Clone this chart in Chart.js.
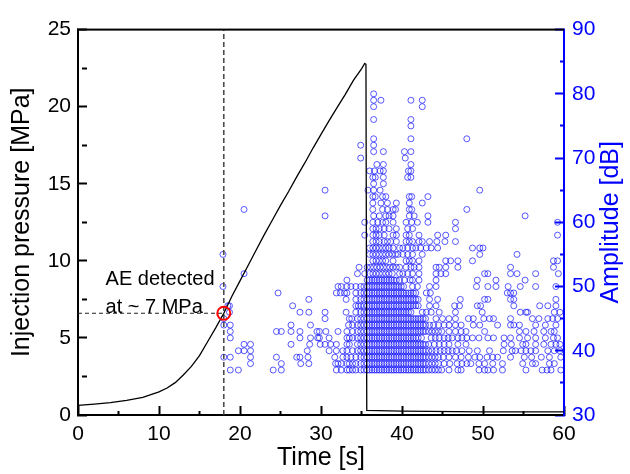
<!DOCTYPE html>
<html>
<head>
<meta charset="utf-8">
<script src="https://cdn.jsdelivr.net/npm/chart.js@4.4.0/dist/chart.umd.min.js"></script>
<style>
  body { margin: 0; background: #fff; }
  #wrap { width: 630px; height: 474px; }
</style>
</head>
<body>
<div id="wrap"><canvas id="chart"></canvas></div>
<script>
// Injection pressure curve (time [s], pressure [MPa])
const pressTime = [0, 2, 4, 6, 8, 10, 11, 12, 13, 14, 15, 16, 17, 18, 19, 20, 21, 22, 23, 24, 25, 26, 27, 28, 29, 30, 31, 32, 33, 34, 35, 35.4, 35.55, 35.65, 40, 50, 60];
const pressValue = [0.62, 0.7, 0.8, 0.95, 1.15, 1.5, 1.75, 2.1, 2.6, 3.15, 3.85, 4.75, 5.65, 6.6, 7.7, 8.7, 9.7, 10.7, 11.7, 12.65, 13.6, 14.5, 15.45, 16.35, 17.3, 18.2, 19.1, 19.95, 20.8, 21.7, 22.45, 22.8, 22.75, 0.3, 0.25, 0.2, 0.2];

// AE hits: event times [s] per amplitude row [dB]
const ae37 = [18.8, 19.8, 24.1, 25.1, 31.9, 32.5, 33.2, 33.5, 33.9, 34.3, 34.9, 35.3, 35.7, 36.0, 36.3, 36.6, 36.9, 37.2, 37.5, 37.8, 38.1, 38.4, 38.7, 39.0, 39.3, 39.6, 39.9, 40.2, 40.5, 40.8, 41.1, 41.4, 41.7, 42.0, 42.3, 42.6, 42.9, 43.3, 43.7, 44.1, 44.5, 44.9, 45.8, 46.9, 47.3, 49.5, 50.2, 50.6, 51.3, 52.4, 55.3, 57.3, 57.9, 58.4, 59.6];
const ae38 = [21.3, 25.1, 27.5, 28.5, 31.8, 32.1, 32.5, 33.2, 33.5, 33.9, 34.3, 34.9, 35.3, 35.7, 36.0, 36.3, 36.6, 36.9, 37.2, 37.5, 37.8, 38.1, 38.4, 38.7, 39.0, 39.3, 39.6, 39.9, 40.2, 40.5, 40.8, 41.1, 41.4, 41.7, 42.0, 42.3, 42.6, 42.9, 43.3, 43.7, 44.1, 44.5, 45.2, 45.9, 46.8, 47.4, 48.0, 48.5, 49.5, 50.2, 51.2, 52.4, 54.9, 56.1, 56.5, 58.2, 58.8];
const ae39 = [18.0, 18.8, 21.3, 24.5, 27.0, 27.4, 28.4, 31.7, 32.7, 33.2, 33.7, 34.3, 34.9, 35.3, 35.7, 36.0, 36.3, 36.6, 36.9, 37.2, 37.5, 37.8, 38.1, 38.4, 38.7, 39.0, 39.3, 39.6, 39.9, 40.2, 40.5, 40.8, 41.1, 41.4, 41.7, 42.0, 42.3, 42.6, 42.9, 43.3, 43.7, 44.1, 44.5, 45.1, 45.8, 46.6, 47.3, 48.2, 49.0, 49.6, 50.5, 51.2, 51.8, 53.4, 55.1, 56.0, 57.2, 58.2, 59.6];
const ae40 = [19.8, 20.5, 21.3, 28.3, 31.0, 31.9, 32.7, 33.2, 33.9, 34.5, 34.9, 35.3, 35.7, 36.0, 36.3, 36.6, 36.9, 37.2, 37.5, 37.8, 38.1, 38.4, 38.7, 39.0, 39.3, 39.6, 39.9, 40.2, 40.5, 40.8, 41.1, 41.4, 41.7, 42.0, 42.3, 42.6, 42.9, 43.3, 43.7, 44.2, 44.7, 45.2, 45.7, 46.2, 46.7, 47.4, 48.3, 49.3, 50.8, 52.5, 53.6, 54.0, 54.7, 55.3, 55.9, 56.5, 58.0, 58.8, 59.5];
const ae41 = [20.5, 21.3, 26.3, 28.6, 29.9, 30.5, 31.2, 31.9, 33.2, 33.5, 34.5, 34.9, 35.3, 35.7, 36.0, 36.3, 36.6, 36.9, 37.2, 37.5, 37.8, 38.1, 38.4, 38.7, 39.0, 39.3, 39.6, 39.9, 40.2, 40.5, 40.8, 41.1, 41.4, 41.7, 42.0, 42.3, 42.6, 42.9, 43.3, 44.0, 44.6, 45.2, 45.8, 46.9, 47.9, 52.6, 53.5, 54.9, 55.3, 56.5, 57.5, 58.4, 59.0, 59.5];
const ae42 = [18.8, 27.4, 28.7, 29.6, 29.8, 31.0, 33.2, 33.5, 33.9, 34.5, 34.9, 35.3, 35.7, 36.0, 36.3, 36.6, 36.9, 37.2, 37.5, 37.8, 38.1, 38.4, 38.7, 39.0, 39.3, 39.6, 39.9, 40.2, 40.5, 40.8, 41.1, 41.4, 41.7, 42.0, 42.4, 43.6, 44.1, 44.6, 45.2, 45.7, 46.2, 46.9, 47.4, 48.0, 48.7, 49.5, 50.6, 51.3, 52.6, 53.4, 54.5, 55.5, 56.5, 57.7, 58.7, 59.2];
const ae43 = [18.8, 24.5, 25.1, 26.3, 27.4, 29.5, 29.8, 30.6, 32.1, 33.2, 33.9, 34.5, 34.9, 35.3, 35.7, 36.0, 36.3, 36.6, 36.9, 37.2, 37.5, 37.8, 38.1, 38.4, 38.7, 39.0, 39.3, 39.6, 39.9, 40.2, 40.5, 40.8, 41.1, 41.4, 41.7, 42.0, 42.3, 42.6, 42.9, 43.3, 43.7, 44.1, 44.5, 44.9, 45.8, 46.6, 47.3, 47.9, 50.2, 54.5, 55.3, 56.3, 57.5, 58.4, 58.8];
const ae44 = [18.0, 18.8, 26.3, 28.7, 33.4, 33.9, 34.5, 34.9, 35.3, 35.7, 36.0, 36.3, 36.6, 36.9, 37.2, 37.5, 37.8, 38.1, 38.4, 38.7, 39.0, 39.3, 39.6, 39.9, 40.2, 40.5, 40.8, 41.1, 41.4, 41.7, 42.0, 42.3, 42.6, 42.9, 43.4, 43.9, 44.5, 45.2, 45.8, 46.6, 47.3, 48.8, 49.6, 51.8, 53.4, 53.8, 54.5, 56.5, 57.7, 59.0];
const ae45 = [18.0, 30.5, 33.5, 33.8, 34.5, 34.9, 35.3, 35.7, 36.0, 36.3, 36.6, 36.9, 37.2, 37.5, 37.8, 38.1, 38.4, 38.7, 39.0, 39.3, 39.6, 39.9, 40.2, 40.5, 40.8, 41.1, 41.4, 41.7, 42.0, 42.3, 42.6, 42.9, 44.2, 45.0, 45.8, 46.6, 48.2, 48.8, 50.1, 50.8, 51.3, 53.4, 56.1, 56.9, 58.0, 58.6, 59.2];
const ae46 = [18.7, 27.4, 28.5, 30.5, 33.1, 34.3, 34.9, 35.3, 35.7, 36.0, 36.3, 36.6, 36.9, 37.2, 37.5, 37.8, 38.1, 38.4, 38.7, 39.0, 39.3, 39.6, 39.9, 40.2, 40.5, 40.8, 41.1, 42.5, 43.0, 43.6, 44.6, 46.6, 49.9, 54.6, 55.3, 55.5, 58.8, 59.5];
const ae47 = [18.5, 18.7, 26.5, 34.3, 34.6, 34.9, 35.3, 35.7, 36.0, 36.3, 36.6, 36.9, 37.2, 37.5, 37.8, 38.1, 38.4, 38.7, 39.0, 39.3, 39.6, 39.9, 40.2, 40.5, 40.8, 41.1, 41.4, 41.7, 42.0, 43.4, 44.2, 46.5, 47.1, 49.3, 49.7, 53.8, 57.0, 58.0, 59.0];
const ae48 = [28.5, 33.1, 34.3, 34.9, 35.3, 35.7, 36.0, 36.3, 36.6, 36.9, 37.2, 37.5, 37.8, 38.1, 38.4, 38.7, 39.0, 39.3, 39.6, 39.9, 40.2, 40.5, 40.8, 41.1, 41.4, 41.7, 42.0, 43.4, 44.4, 47.2, 50.2, 50.6, 53.4, 53.8, 59.0];
const ae49 = [24.7, 31.9, 32.4, 32.9, 33.2, 34.3, 34.9, 35.3, 35.7, 36.0, 36.3, 36.6, 36.9, 37.2, 37.5, 37.8, 38.1, 38.4, 38.7, 39.0, 39.3, 39.6, 39.9, 40.2, 40.5, 40.8, 41.1, 41.4, 41.7, 43.0, 43.5, 53.0, 53.4, 53.8];
const ae50 = [17.9, 32.1, 32.5, 33.2, 33.7, 34.3, 34.9, 35.3, 35.7, 36.0, 36.3, 36.6, 36.9, 37.2, 37.5, 37.8, 38.1, 38.4, 38.7, 39.0, 39.3, 39.6, 39.9, 40.2, 41.3, 41.9, 43.4, 44.2, 49.2, 50.6, 51.6, 53.1, 54.6, 56.5, 59.0];
const ae51 = [33.2, 35.7, 36.0, 36.3, 36.6, 36.9, 37.2, 37.5, 37.8, 38.1, 38.4, 38.7, 39.0, 39.3, 39.7, 40.3, 41.0, 41.3, 42.1, 44.2, 49.3, 51.6, 55.2];
const ae52 = [20.5, 34.5, 35.4, 36.0, 36.4, 36.8, 37.2, 37.6, 38.0, 38.4, 38.8, 39.7, 40.1, 40.7, 41.3, 42.1, 44.2, 44.8, 45.4, 50.2, 50.6, 53.4, 54.2, 56.5, 59.3];
const ae53 = [34.7, 35.7, 36.1, 36.5, 36.9, 37.3, 37.7, 38.1, 38.5, 38.9, 39.3, 39.7, 40.5, 41.1, 41.5, 42.1, 44.2, 44.6, 45.4, 46.9, 53.4, 58.7];
const ae54 = [36.4, 36.8, 37.2, 37.6, 38.0, 38.9, 40.5, 40.9, 41.3, 42.1, 45.4, 46.0, 46.9, 48.7, 58.7, 59.2];
const ae55 = [17.9, 36.0, 36.4, 36.8, 37.2, 37.6, 38.0, 38.4, 38.8, 39.2, 39.5, 40.1, 40.7, 41.3, 42.5, 49.6, 54.2];
const ae56 = [36.0, 36.4, 36.8, 37.2, 37.6, 38.0, 38.4, 38.9, 39.7, 40.1, 40.7, 41.3, 41.7, 42.3, 43.0, 43.6, 44.4, 48.7, 49.6, 50.0];
const ae57 = [36.4, 36.8, 37.2, 37.8, 38.2, 38.6, 39.3, 40.5, 40.9, 41.3, 42.1, 42.5, 43.4, 44.3, 45.3, 46.6];
const ae58 = [35.4, 36.4, 36.8, 37.2, 37.8, 38.9, 39.3, 40.5, 40.9, 42.1, 44.4, 45.4, 59.2];
const ae59 = [36.4, 36.8, 37.2, 37.8, 38.4, 39.3, 40.7, 41.3, 46.6];
const ae60 = [35.4, 36.4, 37.0, 37.6, 38.0, 38.9, 40.5, 41.2, 41.9, 43.2, 46.6, 59.2];
const ae61 = [30.5, 36.5, 37.2, 38.0, 38.4, 38.9, 40.9, 41.5, 43.2, 55.2];
const ae62 = [20.5, 36.4, 37.6, 38.2, 38.9, 39.2, 40.9, 41.2, 48.0];
const ae63 = [36.4, 37.4, 38.2, 39.3, 40.9, 42.5];
const ae64 = [36.4, 36.7, 37.6, 38.0, 40.9, 41.2, 43.2];
const ae65 = [30.5, 35.8, 36.5, 37.3, 49.6];
const ae66 = [36.5, 37.7];
const ae67 = [36.4, 36.7, 37.7, 40.7, 41.1];
const ae68 = [36.0, 36.6, 37.3, 37.7, 40.8, 41.1];
const ae69 = [36.9, 37.7, 41.1];
const ae70 = [34.9, 40.4];
const ae71 = [36.5, 37.7, 40.3, 41.1];
const ae72 = [34.9, 36.5];
const ae73 = [36.5, 41.1, 48.0];
const ae75 = [41.1];
const ae76 = [36.5, 41.1];
const ae78 = [36.5, 42.5];
const ae79 = [36.5, 37.4, 41.1, 42.5];
const ae80 = [36.5];

const aeRows = [
  [37, ae37], [38, ae38], [39, ae39], [40, ae40], [41, ae41], [42, ae42], [43, ae43],
  [44, ae44], [45, ae45], [46, ae46], [47, ae47], [48, ae48], [49, ae49], [50, ae50],
  [51, ae51], [52, ae52], [53, ae53], [54, ae54], [55, ae55], [56, ae56], [57, ae57],
  [58, ae58], [59, ae59], [60, ae60], [61, ae61], [62, ae62], [63, ae63], [64, ae64],
  [65, ae65], [66, ae66], [67, ae67], [68, ae68], [69, ae69], [70, ae70], [71, ae71],
  [72, ae72], [73, ae73], [75, ae75], [76, ae76], [78, ae78], [79, ae79], [80, ae80]
];

// labelled (major) steps; ticks are placed every half step
const timeStep = 10;
const pressStep = 5;
const ampStep = 10;

// first AE detection
const detectTime = 18;
const detectPressure = 6.6;
const noteLines = ["AE detected", "at ~ 7 MPa"];
const noteAt = [3.4, 8.9]; // time, pressure of first text line

const FONT = '"Liberation Sans", Arial, Helvetica, sans-serif';
const BLUE = "#0000ff";

const pressData = pressTime.map((t, i) => ({ x: t, y: pressValue[i] }));
const aeData = [];
aeRows.forEach(([db, times]) => {
  times.forEach((t) => aeData.push({ x: t, y: db }));
});

// ticks point into the plot (negative length); minor ones cut short with a dash
const isMajor = (v, step) => Math.abs(v / step - Math.round(v / step)) < 1e-6;
const innerGrid = (step, color) => ({
  drawOnChartArea: false,
  drawTicks: true,
  tickLength: -9,
  tickWidth: 2,
  tickColor: color,
  tickBorderDash: (c) => (c.tick && !isMajor(c.tick.value, step) ? [5, 40] : []),
});
const majorLabel = (step) => (v) => (isMajor(v, step) ? v : "");

// top frame, right title, annotation text
const framePlugin = {
  id: "frame",
  afterDraw(chart) {
    const g = chart.ctx;
    const a = chart.chartArea;
    const sx = chart.scales.x;
    const sy = chart.scales.y;

    g.save();
    g.fillStyle = "#000";
    g.fillRect(a.left - 1, a.top - 1, a.right - a.left + 1, 2);

    // right axis title, reading bottom to top
    g.fillStyle = BLUE;
    g.font = "25px " + FONT;
    g.textAlign = "center";
    g.textBaseline = "middle";
    g.translate(a.right + 47, (a.top + a.bottom) / 2);
    g.rotate(-Math.PI / 2);
    g.fillText("Amplitude [dB]", 0, 0);
    g.restore();

    // annotation
    g.save();
    g.fillStyle = "#000";
    g.font = "20px " + FONT;
    g.textAlign = "left";
    g.textBaseline = "middle";
    const nx = sx.getPixelForValue(noteAt[0]);
    const ny = sy.getPixelForValue(noteAt[1]);
    noteLines.forEach((line, i) => g.fillText(line, nx, ny + 2 + i * 28));
    g.restore();
  },
};

const canvasCtx = document.getElementById("chart").getContext("2d");

new Chart(canvasCtx, {
  type: "scatter",
  data: {
    datasets: [
      {
        label: "Red marker",
        data: [{ x: detectTime, y: detectPressure }],
        yAxisID: "y",
        pointRadius: 6.5,
        pointBorderWidth: 2,
        pointBorderColor: "#ff0000",
        pointBackgroundColor: "rgba(0,0,0,0)",
        order: 0,
      },
      {
        label: "Injection pressure",
        data: pressData,
        yAxisID: "y",
        showLine: true,
        borderColor: "#000",
        borderWidth: 1.3,
        pointRadius: 0,
        tension: 0,
        order: 1,
      },
      {
        label: "vertical guide",
        data: [{ x: detectTime, y: 0 }, { x: detectTime, y: 25 }],
        yAxisID: "y",
        showLine: true,
        borderColor: "#444",
        borderWidth: 1.5,
        borderDash: [5, 3],
        pointRadius: 0,
        order: 2,
      },
      {
        label: "horizontal guide",
        data: [{ x: 0, y: detectPressure }, { x: detectTime, y: detectPressure }],
        yAxisID: "y",
        showLine: true,
        borderColor: "#222",
        borderWidth: 1.2,
        borderDash: [4, 3],
        pointRadius: 0,
        order: 2,
      },
      {
        label: "AE amplitude",
        data: aeData,
        yAxisID: "y2",
        pointStyle: "circle",
        pointRadius: 3,
        pointBorderWidth: 1,
        pointBorderColor: "rgba(0,0,255,0.65)",
        pointBackgroundColor: "rgba(0,0,0,0)",
        clip: 6,
        order: 3,
      },
    ],
  },
  options: {
    responsive: true,
    maintainAspectRatio: false,
    animation: false,
    layout: { padding: { top: 23, left: 0, right: 0, bottom: 0 } },
    plugins: {
      legend: { display: false },
      tooltip: { enabled: false },
    },
    scales: {
      x: {
        type: "linear",
        position: "bottom",
        min: 0,
        max: 60,
        ticks: {
          stepSize: timeStep / 2,
          autoSkip: false,
          callback: majorLabel(timeStep),
          color: "#000",
          font: { family: FONT, size: 21 },
          padding: 16,
          maxRotation: 0,
        },
        grid: innerGrid(timeStep, "#000"),
        border: { color: "#000", width: 2 },
        title: {
          display: true,
          text: "Time [s]",
          color: "#000",
          font: { family: FONT, size: 25 },
          padding: { top: 0, bottom: 1 },
        },
        afterFit: (s) => { s.height = 59; },
      },
      y: {
        position: "left",
        min: 0,
        max: 25,
        ticks: {
          stepSize: pressStep / 2,
          autoSkip: false,
          callback: majorLabel(pressStep),
          color: "#000",
          font: { family: FONT, size: 21 },
          padding: 16,
        },
        grid: innerGrid(pressStep, "#000"),
        border: { color: "#000", width: 2 },
        title: {
          display: true,
          text: "Injection pressure [MPa]",
          color: "#000",
          font: { family: FONT, size: 25 },
          padding: { top: 7, bottom: 0 },
        },
        afterFit: (s) => { s.width = 78; },
      },
      y2: {
        position: "right",
        min: 30,
        max: 90,
        ticks: {
          stepSize: ampStep / 2,
          autoSkip: false,
          callback: majorLabel(ampStep),
          color: BLUE,
          font: { family: FONT, size: 21 },
          padding: 17,
        },
        grid: innerGrid(ampStep, BLUE),
        border: { color: BLUE, width: 2 },
        afterFit: (s) => { s.width = 66; },
      },
    },
  },
  plugins: [framePlugin],
});
</script>
</body>
</html>
